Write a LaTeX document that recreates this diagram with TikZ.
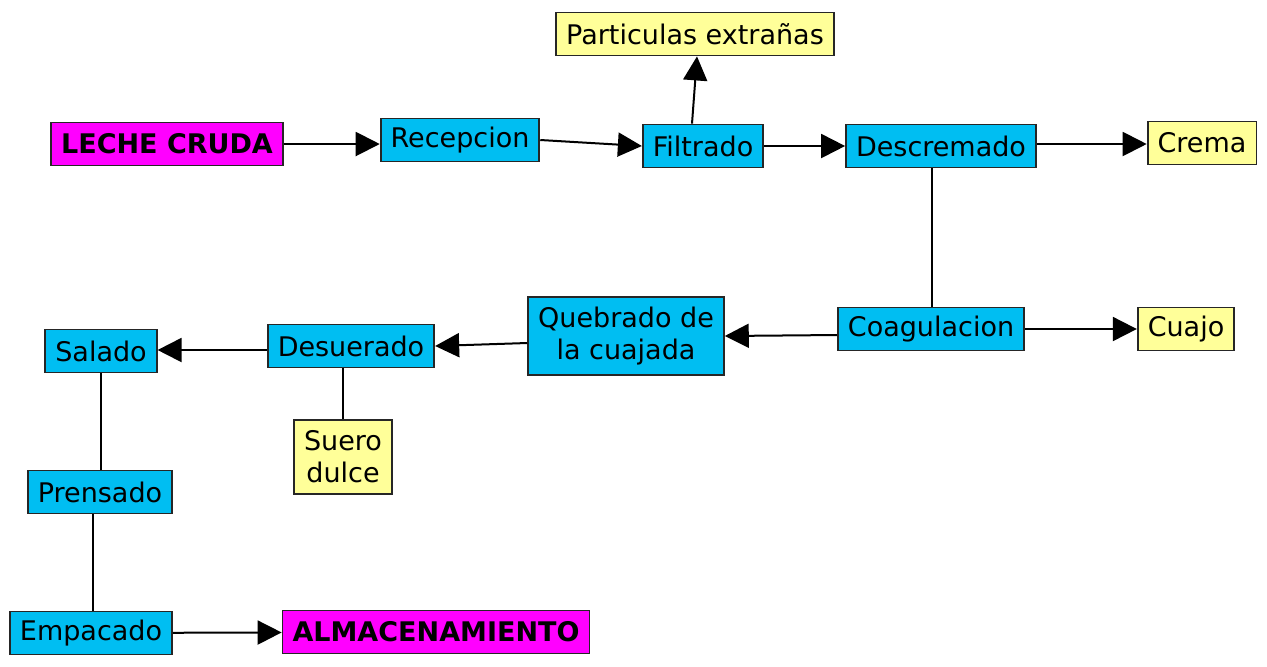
\documentclass[tikz,border=0pt]{standalone}
\usepackage{fontspec}
\setmainfont{DejaVu Sans}
\usepackage{xcolor}
\usepackage{tikz}
\usetikzlibrary{arrows.meta}

\definecolor{celeste}{RGB}{0,190,242}
\definecolor{amarillo}{RGB}{255,255,153}
\definecolor{magenta}{RGB}{255,0,255}

\begin{document}
\begin{tikzpicture}[x=0.5pt,y=-0.5pt,
	caja/.style={draw=black!85,line width=0.9pt,inner xsep=5pt,inner ysep=2pt,minimum height=21.5pt,font=\fontsize{13.5}{16}\selectfont,align=center},
	proceso/.style={caja,fill=celeste},
	salida/.style={caja,fill=amarillo},
	extremo/.style={caja,fill=magenta,font=\fontsize{13.5}{16}\selectfont\bfseries},
	flecha/.style={line width=1pt,-{Triangle[length=12pt,width=12pt]}},
	linea/.style={line width=1pt}]
			\useasboundingbox (0,0) rectangle (1267,666);
			% Cajas
			\node[extremo] (leche) at (167,144) {LECHE CRUDA};
			\node[proceso] (recepcion) at (460,140) {Recepcion};
			\node[proceso] (filtrado) at (703,146) {Filtrado};
			\node[salida] (extranas) at (695,34) {Particulas extrañas};
			\node[proceso] (descremado) at (941,146) {Descremado};
			\node[salida] (crema) at (1202,143) {Crema};
			\node[proceso] (coagulacion) at (931,329) {Coagulacion};
			\node[salida] (cuajo) at (1186,329) {Cuajo};
			\node[proceso,minimum height=39pt] (quebrado) at (626,336) {Quebrado de\\la cuajada};
			\node[proceso] (desuerado) at (351,346) {Desuerado};
			\node[salida,minimum height=37pt] (suero) at (343,457) {Suero\\dulce};
			\node[proceso] (salado) at (101,351) {Salado};
			\node[proceso] (prensado) at (100,492) {Prensado};
			\node[proceso] (empacado) at (91,633) {Empacado};
			\node[extremo] (almacen) at (436,632) {ALMACENAMIENTO};
			% Conectores
			\draw[flecha] (leche.east) -- (leche.east -| recepcion.west);
			\draw[flecha] (recepcion.east) -- (filtrado.west);
			\draw[flecha] ([xshift=-5.5pt]filtrado.north) -- ([xshift=1pt]extranas.south);
			\draw[flecha] (filtrado.east) -- (descremado.west);
			\draw[flecha] ([yshift=1pt]descremado.east) -- ([yshift=1pt]descremado.east -| crema.west);
			\draw[linea] ([xshift=-4.5pt]descremado.south) -- ([xshift=-4.5pt]descremado.south |- coagulacion.north);
			\draw[flecha] (coagulacion) -- (cuajo);
			\draw[flecha] ([yshift=-3pt]coagulacion.west) -- (quebrado.east);
			\draw[flecha] ([yshift=-3.5pt]quebrado.west) -- (desuerado.east);
			\draw[flecha] ([yshift=-2pt]desuerado.west) -- ([yshift=-2pt]desuerado.west -| salado.east);
			\draw[linea] (suero.north) -- (suero.north |- desuerado.south);
			\draw[linea] (salado.south) -- (salado.south |- prensado.north);
			\draw[linea] ([xshift=-3.5pt]prensado.south) -- ([xshift=-3.5pt]prensado.south |- empacado.north);
			\draw[flecha] (empacado) -- (almacen);
		\end{tikzpicture}
\end{document}
